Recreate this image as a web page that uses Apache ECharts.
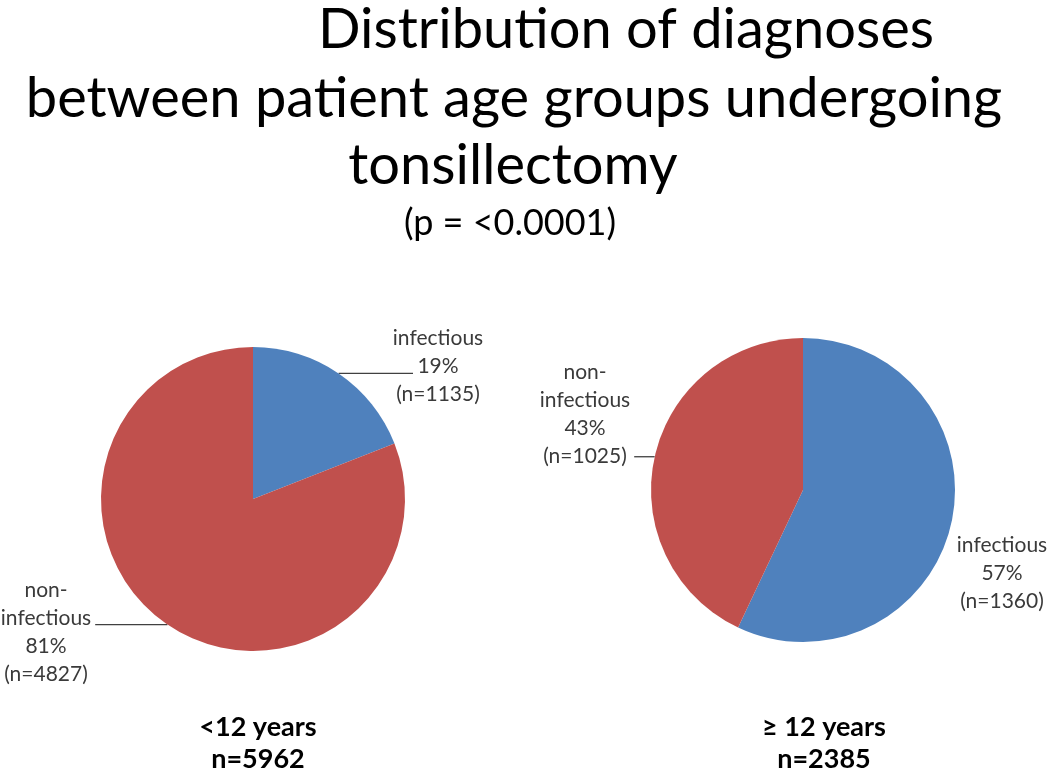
<!DOCTYPE html>
<html>
<head>
<meta charset="utf-8">
<script src="https://cdn.jsdelivr.net/npm/echarts@6/dist/echarts.min.js"></script>
<style>
  html, body { margin: 0; padding: 0; background: #fff; }
  #chart { width: 1050px; height: 772px; }
</style>
</head>
<body>
<div id="chart"></div>
<script>
var categories = ['infectious', 'non-infectious'];
var groupNames = ['<12 years', '\u2265 12 years'];
var groupTotals = [5962, 2385];
var under12 = [1135, 4827];
var over12 = [1360, 1025];
var percents = [[19, 81], [57, 43]];

var font = 'Lato';
var blue = '#4F81BD';
var red = '#C0504D';

// where each label block sits (series index -> data index)
var labelSpots = [
  [{ x: 438, y: 366 }, { x: 46, y: 632 }],
  [{ x: 1002, y: 573 }, { x: 585, y: 414 }]
];

function labelText(si, di, n) {
  var name = categories[di] === 'non-infectious' ? 'non-\ninfectious' : 'infectious';
  return name + '\n' + percents[si][di] + '%\n(n=' + n + ')';
}

function makeSeries(si, values, center) {
  return {
    type: 'pie',
    center: center,
    radius: 152,
    startAngle: 90,
    clockwise: true,
    animation: false,
    silent: true,
    itemStyle: { borderWidth: 0 },
    label: {
      show: true,
      position: 'outside',
      fontFamily: font,
      fontSize: 21,
      lineHeight: 28,
      color: '#3a3a3a',
      align: 'center',
      overflow: 'none',
      formatter: function (p) { return labelText(si, p.dataIndex, p.value); }
    },
    labelLine: { show: true, length: 2, length2: 6, lineStyle: { color: '#404040', width: 1.3 } },
    labelLayout: function (p) {
      var s = labelSpots[si][p.dataIndex];
      var out = { x: s.x, y: s.y, align: 'center', verticalAlign: 'middle' };
      // straight leader from the slice edge to the side of the label block
      if (p.labelLinePoints && p.labelLinePoints.length) {
        var a = p.labelLinePoints[0];
        var half = p.labelRect.width / 2;
        var endX = s.x > a[0] ? s.x - 25 : s.x + half + 4;
        out.labelLinePoints = [[a[0], a[1]], [(a[0] + endX) / 2, a[1]], [endX, a[1]]];
      }
      return out;
    },
    data: values.map(function (v, i) {
      var item = { name: categories[i], value: v, itemStyle: { color: i === 0 ? blue : red } };
      if (si === 1 && i === 0) item.labelLine = { show: false };
      return item;
    })
  };
}

var titleStyle = { fontFamily: font, fontWeight: 'normal', fontSize: 56, color: '#000' };

var chart = echarts.init(document.getElementById('chart'));
chart.setOption({
  backgroundColor: '#fff',
  title: [
    { text: 'Distribution of diagnoses', left: 621, top: -3, textAlign: 'center', textStyle: titleStyle },
    { text: 'between patient age groups undergoing', left: 509, top: 66, textAlign: 'center', textStyle: titleStyle },
    { text: 'tonsillectomy', left: 508, top: 133, textAlign: 'center', textStyle: titleStyle },
    { text: '(p = <0.0001)', left: 505, top: 200, textAlign: 'center',
      textStyle: { fontFamily: font, fontWeight: 'normal', fontSize: 36, color: '#000' } },
    { text: groupNames[0] + '\nn=' + groupTotals[0], left: 253, top: 706, textAlign: 'center',
      textStyle: { fontFamily: font, fontWeight: 'bold', fontSize: 27, lineHeight: 32, color: '#000' } },
    { text: groupNames[1] + '\nn=' + groupTotals[1], left: 819, top: 706, textAlign: 'center',
      textStyle: { fontFamily: font, fontWeight: 'bold', fontSize: 27, lineHeight: 32, color: '#000' } }
  ],
  series: [
    makeSeries(0, under12, [253, 499]),
    makeSeries(1, over12, [803, 490])
  ]
});
</script>
</body>
</html>
